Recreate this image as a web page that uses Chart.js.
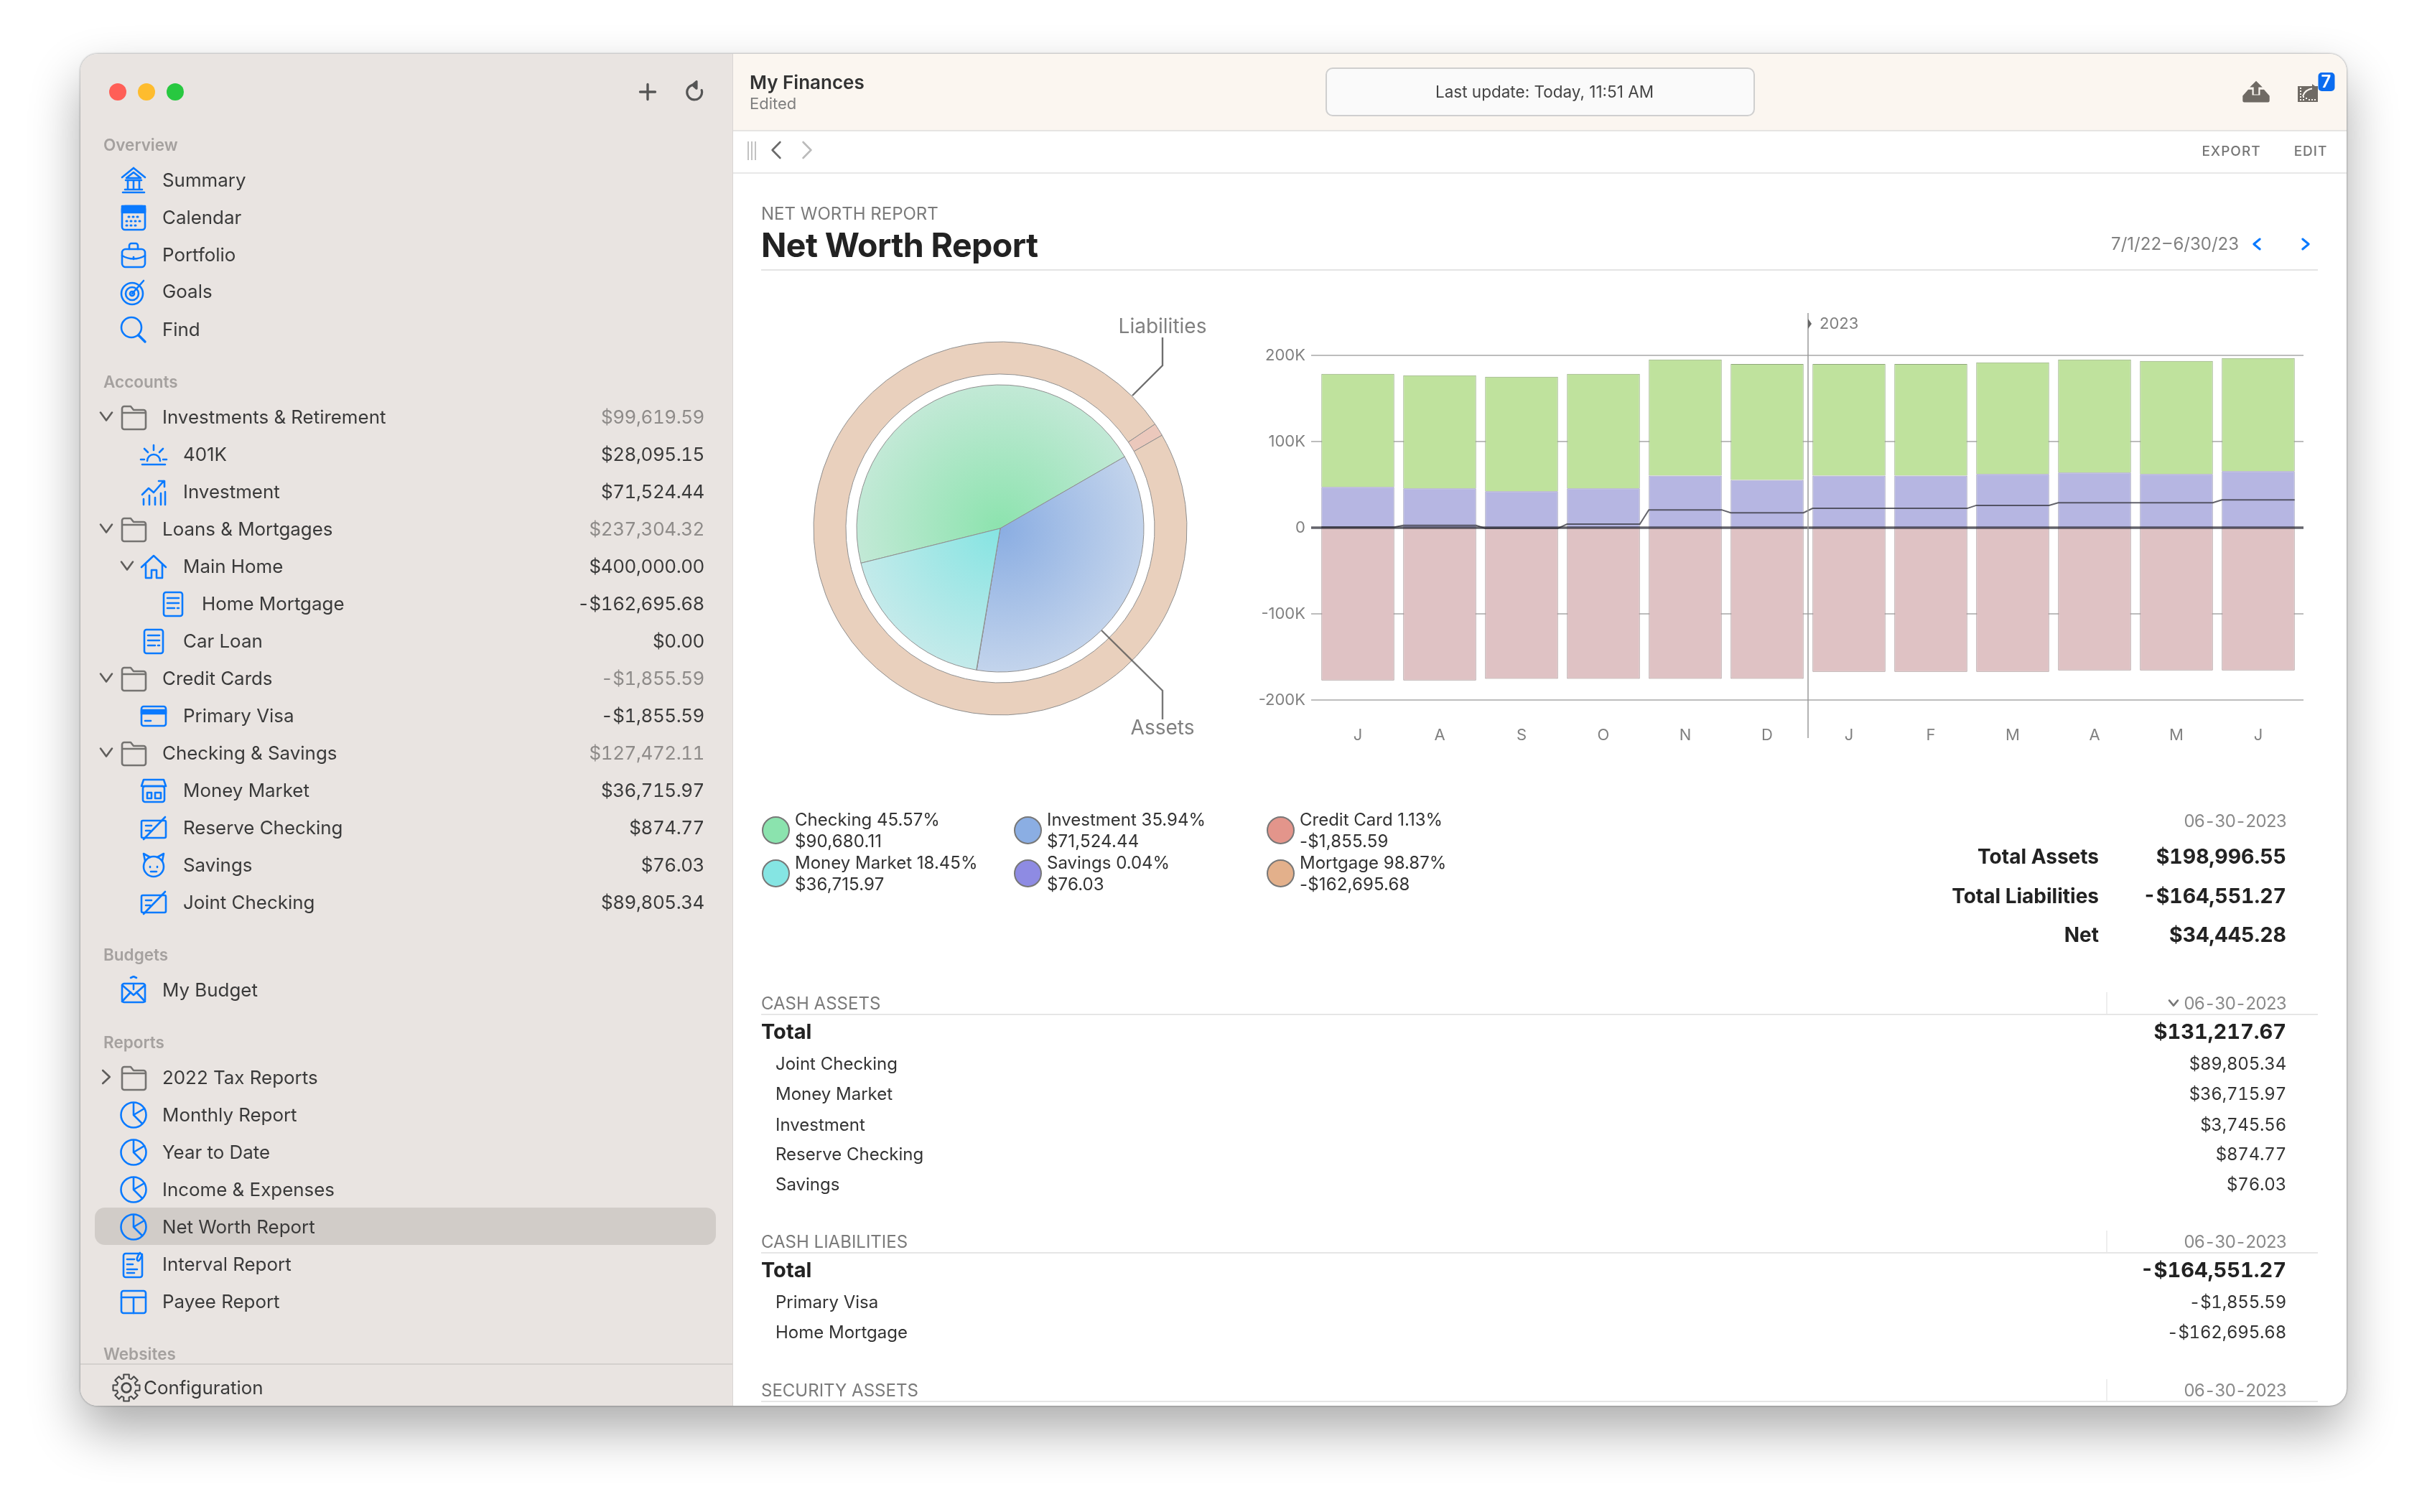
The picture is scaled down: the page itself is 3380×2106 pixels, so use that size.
<!DOCTYPE html>
<html>
<head>
<meta charset="utf-8">
<title>Net Worth Report</title>
<script src="https://cdn.jsdelivr.net/npm/chart.js@4"></script>
<style>
html, body { margin: 0; padding: 0; background: #fff; }
body { width: 3380px; height: 2106px; overflow: hidden; position: relative; font-family: Inter, "Noto Sans", sans-serif; }
#win { position: absolute; left: 112px; top: 75px; width: 3156px; height: 1883px; border-radius: 24px; overflow: hidden; background: #fff;
  box-shadow: 0 34px 70px rgba(0,0,0,.33), 0 0 3px rgba(0,0,0,.45); }
#layer { position: absolute; left: -112px; top: -75px; width: 3380px; height: 2106px; }
.t { position: absolute; white-space: nowrap; line-height: 1; transform: translateY(-50%); }
.c { transform: translate(-50%, -50%); }
.num { font-feature-settings: "tnum"; }
.box { position: absolute; }
canvas { position: absolute; }
svg.ic { position: absolute; fill: none; stroke: currentColor; stroke-width: 2.6; stroke-linecap: round; stroke-linejoin: round; }
</style>
</head>
<body>
<div id="win"><div id="layer">
  <div class="box" style="left:112px;top:75px;width:908px;height:1883px;background:#e9e4e1;border-right:1px solid #d9d6d4"></div>
  <div class="box" style="left:132px;top:1682px;width:865px;height:52px;background:#d1ccc8;border-radius:14px"></div>
  <div class="box" style="left:112px;top:1899px;width:908px;height:2px;background:#d4d0cd"></div>
  <div class="box" style="left:1021px;top:75px;width:2247px;height:106px;background:#fbf6f0;border-bottom:2px solid #e6e4e2"></div>
  <div class="box" style="left:1021px;top:183px;width:2247px;height:57px;border-bottom:2px solid #e8e8e8"></div>
  <div class="box" style="left:1846px;top:94px;width:594px;height:64px;background:#fafafa;border:2px solid #cfcfcf;border-radius:10px"></div>
  <div class="box" style="left:1060px;top:375px;width:2168px;height:2px;background:#e4e4e4"></div>
  <div class="box" style="left:164px;top:128px;width:24px;height:24px;margin:-12px;border-radius:50%;background:#ff5f57"></div>
  <div class="box" style="left:204px;top:128px;width:24px;height:24px;margin:-12px;border-radius:50%;background:#febc2e"></div>
  <div class="box" style="left:244px;top:128px;width:24px;height:24px;margin:-12px;border-radius:50%;background:#28c840"></div>
  <canvas id="ring" width="540" height="540" style="left:1123px;top:466px"></canvas>
  <canvas id="pie" width="540" height="540" style="left:1123px;top:466px"></canvas>
  <canvas id="bars" width="1530" height="640" style="left:1700px;top:420px"></canvas>
  <svg class="box" style="left:0;top:0" width="3380" height="2106" fill="none">
    <path d="M1577 551 1619 509V470" stroke="#6f6f6f" stroke-width="2.4"/>
    <path d="M1534 878 1619 962V1002" stroke="#555" stroke-opacity=".8" stroke-width="2.4"/>
  </svg>
  <svg class="box" style="left:3200px;top:117px" width="28" height="25" viewBox="0 0 28 25">
    <rect y="3" width="28" height="22" fill="#6f6a64"/>
    <path d="M4 5v18M8 17v6M12 19v4M16 21v2M20 21v2M24 21v2" stroke="#fbf6f0" stroke-width="2" stroke-dasharray="2 2" fill="none"/>
    <path d="M7 17C9 10 14 7 22 6" stroke="#fbf6f0" stroke-width="2" fill="none"/>
    <path d="M20 0l8 6-8 6z" fill="#6f6a64"/>
  </svg>
</div></div>
<script>
"use strict";

// chart values
var monthLabels = ["J", "A", "S", "O", "N", "D", "J", "F", "M", "A", "M", "J"];
var yTickLabels = ["-200K", "-100K", "0", "100K", "200K"];
var cashAssets = [47300, 45600, 42200, 45600, 60500, 55400, 60500, 60500, 62200, 63900, 62200, 65600];
var securityAssets = [131300, 131300, 133000, 133000, 134700, 134700, 129600, 129600, 129600, 131300, 131300, 131300];
var liabilities = [-177200, -177200, -175500, -175500, -175500, -175500, -167300, -167300, -167300, -165600, -165600, -165600];
var netWorth = [700, 2700, -700, 4100, 20700, 17300, 22400, 22400, 25900, 28900, 28900, 32300];

var assetNames = ["Checking", "Investment", "Savings", "Money Market"];
var assetValues = [90680.11, 71524.44, 76.03, 36715.97];
var assetInner = ["#8ce3ae", "#8aade2", "#8e8be3", "#85e4e2"];
var assetOuter = ["#c2e9d6", "#c3d4ec", "#c6c5ec", "#c3eaea"];
var liabilityNames = ["Credit Card", "Mortgage"];
var liabilityValues = [1855.59, 162695.68];
var liabilityColors = ["#ebc8bc", "#e9d0bd"];

var legendRows = [
  ["Checking 45.57%", "$90,680.11", "#8be3ae", 1107, 1142],
  ["Money Market 18.45%", "$36,715.97", "#85e5e3", 1107, 1202],
  ["Investment 35.94%", "$71,524.44", "#8baee3", 1458, 1142],
  ["Savings 0.04%", "$76.03", "#8e8be3", 1458, 1202],
  ["Credit Card 1.13%", "-$1,855.59", "#e3958b", 1810, 1142],
  ["Mortgage 98.87%", "-$162,695.68", "#e3b08b", 1810, 1202]
];

var layer = document.getElementById("layer");

function put(text, x, y, size, color, weight, align) {
  var el = document.createElement("div");
  el.className = "t" + (align === "c" ? " c" : "");
  el.textContent = text;
  if (align === "r") el.style.right = (3380 - x) + "px";
  else el.style.left = x + "px";
  el.style.top = y + "px";
  el.style.fontSize = size + "px";
  el.style.color = color;
  el.style.fontWeight = weight || 400;
  layer.appendChild(el);
  return el;
}

function putNum(text, x, y, size, color, weight, spacing) {
  var el = put(text, x, y, size, color, weight, "r");
  el.classList.add("num");
  el.style.letterSpacing = (spacing || 0) + "px";
  return el;
}

function gearPath() {
  var pts = [];
  for (var i = 0; i < 8; i++) {
    var a = i * Math.PI / 4;
    [[-0.27, 13], [-0.2, 18], [0.2, 18], [0.27, 13]].forEach(function (p) {
      pts.push((20 + p[1] * Math.sin(a + p[0])).toFixed(1) + " " + (20 - p[1] * Math.cos(a + p[0])).toFixed(1));
    });
  }
  return "M" + pts.join("L") + "Z";
}

var iconPaths = {
  bank: '<path d="M20 3 4 16M20 3l16 13M20 9 10 17h20zM12 20v12M20 20v12M28 20v12M9 20h22M8 33h24M5 37h30"/>',
  cal: '<rect x="4" y="4" width="32" height="33" rx="4"/><rect x="4" y="4" width="32" height="9" fill="currentColor"/><path stroke-dasharray="1 5" stroke-width="3" d="M13 19h16M10 25h20M10 31h14"/>',
  work: '<rect x="4" y="12" width="32" height="25" rx="5"/><path d="M14 12V7a3 3 0 0 1 3-3h6a3 3 0 0 1 3 3v5M4 21c10 6 22 6 32 0M20 23v3"/>',
  target: '<circle cx="18" cy="23" r="15"/><circle cx="18" cy="23" r="9"/><circle cx="18" cy="23" r="3"/><path d="M18 23 34 5"/>',
  find: '<circle cx="17" cy="17" r="14"/><path d="M27 28l9 9" stroke-width="3.4"/>',
  folder: '<path d="M4 11V8a3 3 0 0 1 3-3h9l4 5h14a3 3 0 0 1 3 3v21a3 3 0 0 1-3 3H7a3 3 0 0 1-3-3zM4 14h33"/>',
  sun: '<path d="M11 29a9 9 0 0 1 18 0M20 7v7M7 12l5 5M33 12l-5 5M2 27h5M33 27h5M4 34h32"/>',
  growth: '<path d="M4 24l9-9 7 6 14-16M27 5h8v8M6 38v-8M14 38v-13M22 38v-10M30 38v-16M36 38V20"/>',
  home: '<path d="M3 21 20 5l17 16M9 17v19h8V25h7v11h8V17"/>',
  doc: '<rect x="7" y="4" width="26" height="33" rx="3"/><path d="M12 12h16M12 19h16M12 26h10M26 26h2"/>',
  card: '<rect x="3" y="7" width="34" height="27" rx="3"/><rect x="3" y="12" width="34" height="5" fill="currentColor"/><path d="M8 27h8"/>',
  store: '<rect x="5" y="14" width="30" height="22" rx="3"/><path d="M6 5h28l3 9H3zM11 23h6v8h-6zM22 23h8v8h-8z"/>',
  cheque: '<rect x="3" y="10" width="34" height="24" rx="2"/><path d="M6 36 36 5M9 17h8M9 24h6"/>',
  piggy: '<circle cx="20" cy="22" r="14"/><path d="M8 14 6 4l9 5M32 14l2-10-9 5M15 22v1M25 22v1M16 29h8"/>',
  budget: '<rect x="4" y="11" width="32" height="26" rx="3"/><path d="M4 36l12-13M36 36 24 23M4 13l16 14 16-14M16 3l4-2 4 2M20 13v6"/>',
  pie: '<circle cx="20" cy="20" r="17.5"/><path d="M20 3v17l12 12M20 20l15-9"/>',
  interval: '<rect x="6" y="5" width="26" height="33" rx="3"/><path d="M11 13h10M11 20h8M11 27h14M11 32h10M29 4c-5 6-5 10-3 11s5-5 6-9"/>',
  table: '<rect x="3" y="5" width="34" height="31" rx="3"/><path d="M3 14h34M20 14v22"/>',
  gear: '<circle cx="20" cy="20" r="6"/><path stroke-width="2" d="' + gearPath() + '"/>',
  plus: '<path d="M20 6v28M6 20h28" stroke-width="4.5"/>',
  reload: '<path d="M25 8a13 13 0 1 0 9 9M25 2v12l-7-6z" stroke-width="4"/>',
  tray: '<path d="M20 7l-8 8h5v9h6v-9h5z" fill="currentColor" stroke="none"/><path d="M10 18h5v7h10v-7h5l7 8v6a2 2 0 0 1-2 2H5a2 2 0 0 1-2-2v-6z" fill="currentColor" stroke="none"/>'
};

function icon(name, cx, cy, color, size) {
  var s = size || 40;
  layer.insertAdjacentHTML("beforeend",
    '<svg class="ic" viewBox="0 0 40 40" width="' + s + '" height="' + s + '" style="left:' + (cx - s / 2) + 'px;top:' + (cy - s / 2) +
    'px;color:' + (color || "#0a7aff") + '">' + iconPaths[name] + "</svg>");
}

function chevron(dir, cx, cy, color, h, w, stroke) {
  var hw = (w || 8), hh = (h || 9);
  var d = { down: [-hw, -hh * 0.6, 0, hh * 0.6, hw, -hh * 0.6], right: [-hw * 0.6, -hh, hw * 0.6, 0, -hw * 0.6, hh], left: [hw * 0.6, -hh, -hw * 0.6, 0, hw * 0.6, hh] }[dir];
  layer.insertAdjacentHTML("beforeend",
    '<svg class="box" style="left:0;top:0" width="3380" height="2106" fill="none"><path stroke="' + color + '" stroke-width="' + (stroke || 2.6) + '" stroke-linecap="round" stroke-linejoin="round" d="M' +
    (cx + d[0]) + " " + (cy + d[1]) + "L" + (cx + d[2]) + " " + (cy + d[3]) + "L" + (cx + d[4]) + " " + (cy + d[5]) + '"/></svg>');
}

// sidebar
var sideHeads = [["Overview", 202], ["Accounts", 532], ["Budgets", 1330], ["Reports", 1452], ["Websites", 1886]];
sideHeads.forEach(function (h) { put(h[0], 144, h[1], 22.5, "#a5a19f", 600); });

var sideRows = [
  ["Summary", 251, 0, "bank"], ["Calendar", 303, 0, "cal"], ["Portfolio", 355, 0, "work"], ["Goals", 406, 0, "target"], ["Find", 459, 0, "find"],
  ["Investments & Retirement", 581, 0, "folder", "$99,619.59", 1, "down"],
  ["401K", 633, 1, "sun", "$28,095.15"], ["Investment", 685, 1, "growth", "$71,524.44"],
  ["Loans & Mortgages", 737, 0, "folder", "$237,304.32", 1, "down"],
  ["Main Home", 789, 1, "home", "$400,000.00", 0, "down"],
  ["Home Mortgage", 841, 2, "doc", "-$162,695.68"], ["Car Loan", 893, 1, "doc", "$0.00"],
  ["Credit Cards", 945, 0, "folder", "-$1,855.59", 1, "down"], ["Primary Visa", 997, 1, "card", "-$1,855.59"],
  ["Checking & Savings", 1049, 0, "folder", "$127,472.11", 1, "down"],
  ["Money Market", 1101, 1, "store", "$36,715.97"], ["Reserve Checking", 1153, 1, "cheque", "$874.77"],
  ["Savings", 1205, 1, "piggy", "$76.03"], ["Joint Checking", 1257, 1, "cheque", "$89,805.34"],
  ["My Budget", 1379, 0, "budget"],
  ["2022 Tax Reports", 1501, 0, "folder", null, 1, "right"],
  ["Monthly Report", 1553, 0, "pie"], ["Year to Date", 1605, 0, "pie"], ["Income & Expenses", 1657, 0, "pie"], ["Net Worth Report", 1709, 0, "pie"],
  ["Interval Report", 1761, 0, "interval"], ["Payee Report", 1813, 0, "table"]
];
var rowText = [226, 255, 281], rowIcon = [186, 214, 241], rowChev = [148, 177, 205];
sideRows.forEach(function (row) {
  var lv = row[2];
  put(row[0], rowText[lv], row[1], 25.9, "#3a3a3a", 400);
  icon(row[3], rowIcon[lv], row[1], row[3] === "folder" ? "#757371" : null);
  if (row[4]) putNum(row[4], 981, row[1], 25.9, row[5] ? "#8e8b89" : "#3a3a3a", 400, -0.4);
  if (row[6]) chevron(row[6], rowChev[lv], row[1] - 1, "#5f5d5b");
});
icon("gear", 176, 1933, "#4a4a4a", 42);
put("Configuration", 200, 1933, 25.9, "#3a3a3a", 400);
icon("plus", 902, 128, "#555", 30);
icon("reload", 966, 128, "#555", 32);

// title bar and toolbar
put("My Finances", 1044, 114.5, 26, "#333", 600);
put("Edited", 1044, 144, 22, "#808080");
put("Last update: Today, 11:51 AM", 2151, 128, 22.5, "#444", 400, "c");
icon("tray", 3142, 127, "#6f6a64", 44);
var badge = put("7", 3239.5, 114, 24, "#fff", 600, "c");
badge.style.cssText += ";background:#0a6cf0;border-radius:5px;width:23px;height:26px;line-height:26px;text-align:center";
var bars3 = [1041, 1046, 1051];
bars3.forEach(function (x) {
  var b = document.createElement("div");
  b.className = "box";
  b.style.cssText = "left:" + x + "px;top:197px;width:2px;height:26px;background:#c2c2c2";
  layer.appendChild(b);
});
chevron("left", 1081, 209, "#6a6a6a", 11, 9);
chevron("right", 1124, 209, "#bbb", 11, 9);
var toolbarLinks = [["EXPORT", 3107.5], ["EDIT", 3218]];
toolbarLinks.forEach(function (l) {
  put(l[0], l[1], 210, 19, "#757575", 500, "c").style.letterSpacing = "1px";
});

// report heading
put("NET WORTH REPORT", 1060, 298, 24, "#7a7a7a");
var heading = put("Net Worth Report", 1060, 340.5, 46.5, "#222", 700);
heading.style.letterSpacing = "-0.6px";
put("7/1/22\u200a\u2013\u200a6/30/23", 3118, 340, 24, "#808080", 400, "r");
chevron("left", 3143, 340, "#0a7aff", 7, 7, 3);
chevron("right", 3211, 340, "#0a7aff", 7, 7, 3);

// pie captions
put("Liabilities", 1619, 454, 28, "#808080", 400, "c");
put("Assets", 1619, 1013, 28, "#808080", 400, "c");

// legend
legendRows.forEach(function (row) {
  put(row[0], row[3], row[4], 24, "#333");
  put(row[1], row[3], row[4] + 30, 24, "#333").style.letterSpacing = "0.15px";
  var dot = document.createElement("div");
  dot.className = "box";
  dot.style.cssText = "left:" + (row[3] - 46) + "px;top:" + (row[4] - 5) + "px;width:35px;height:35px;border-radius:50%;border:2px solid #777;background:" + row[2];
  layer.appendChild(dot);
});

// summary block
putNum("06-30-2023", 3184, 1144, 24, "#8a8a8a", 400, -1.3);
var summaryRows = [["Total Assets", "$198,996.55", 1193], ["Total Liabilities", "-$164,551.27", 1248], ["Net", "$34,445.28", 1302]];
summaryRows.forEach(function (row) {
  put(row[0], 2923, row[2], 28, "#222", 700, "r");
  putNum(row[1], 3184, row[2], 28.5, "#222", 700);
});

// tables below the charts
function section(title, y, dateText) {
  put(title, 1060, y, 24, "#7a7a7a");
  putNum(dateText, 3184, y, 24, "#8a8a8a", 400, -1.3);
  var rule = document.createElement("div");
  rule.className = "box";
  rule.style.cssText = "left:1060px;top:" + (y + 14) + "px;width:2168px;height:2px;background:#e6e6e6";
  layer.appendChild(rule);
  var div = document.createElement("div");
  div.className = "box";
  div.style.cssText = "left:2933px;top:" + (y - 16) + "px;width:2px;height:30px;background:#eee";
  layer.appendChild(div);
}
section("CASH ASSETS", 1398, "06-30-2023");
chevron("down", 3027, 1397, "#777", 6, 6);
section("CASH LIABILITIES", 1730, "06-30-2023");
section("SECURITY ASSETS", 1937, "06-30-2023");

var tableRows = [
  ["Joint Checking", "$89,805.34", 1482], ["Money Market", "$36,715.97", 1524], ["Investment", "$3,745.56", 1567],
  ["Reserve Checking", "$874.77", 1608], ["Savings", "$76.03", 1650],
  ["Primary Visa", "-$1,855.59", 1814], ["Home Mortgage", "-$162,695.68", 1856]
];
tableRows.forEach(function (row) {
  put(row[0], 1080, row[2], 24, "#333");
  putNum(row[1], 3184, row[2], 24, "#333", 400, -0.2);
});
var tableTotals = [["Total", "$131,217.67", 1436], ["Total", "-$164,551.27", 1768]];
tableTotals.forEach(function (row) {
  put(row[0], 1060, row[2], 29, "#222", 700);
  putNum(row[1], 3184, row[2], 29, "#222", 700);
});

// charts
function sliceGradient(context) {
  var i = context.dataIndex, chart = context.chart, area = chart.chartArea;
  if (!area) return assetInner[i];
  var cx = (area.left + area.right) / 2, cy = (area.top + area.bottom) / 2;
  var g = chart.ctx.createRadialGradient(cx, cy, 0, cx, cy, 200);
  g.addColorStop(0, assetInner[i]);
  g.addColorStop(1, assetOuter[i]);
  return g;
}

new Chart(document.getElementById("ring"), {
  type: "doughnut",
  data: {
    labels: liabilityNames,
    datasets: [{ data: liabilityValues, backgroundColor: liabilityColors, borderColor: "#8f8f8f", borderWidth: 1 }]
  },
  options: {
    responsive: false, animation: false, rotation: 56, radius: 260, cutout: "82.7%",
    plugins: { legend: { display: false }, tooltip: { enabled: false } }
  }
});

new Chart(document.getElementById("pie"), {
  type: "pie",
  data: {
    labels: assetNames,
    datasets: [{ data: assetValues, backgroundColor: sliceGradient, borderColor: "#8f8f8f", borderWidth: 1 }]
  },
  options: {
    responsive: false, animation: false, rotation: 256, radius: 200,
    plugins: { legend: { display: false }, tooltip: { enabled: false } }
  }
});

var yearMarker = {
  id: "yearMarker",
  beforeDatasetsDraw: function (chart) {
    var ctx = chart.ctx, y = chart.scales.y, area = chart.chartArea;
    ctx.save();
    ctx.strokeStyle = "#bdbdbd";
    ctx.lineWidth = 2;
    y.ticks.forEach(function (t) {
      var py = Math.round(y.getPixelForValue(t.value));
      if (t.value === 0) return;
      ctx.beginPath();
      ctx.moveTo(area.left - 8, py);
      ctx.lineTo(area.right + 6, py);
      ctx.stroke();
    });
    ctx.restore();
  },
  afterDatasetsDraw: function (chart) {
    var ctx = chart.ctx, y = chart.scales.y, x = chart.scales.xNet, area = chart.chartArea;
    var zero = y.getPixelForValue(0), divide = x.getPixelForValue(5.5);
    ctx.save();
    ctx.strokeStyle = "rgba(40,40,50,.72)";
    ctx.lineWidth = 3.5;
    ctx.beginPath();
    ctx.moveTo(area.left - 8, zero);
    ctx.lineTo(area.right + 6, zero);
    ctx.stroke();
    ctx.strokeStyle = "#9a9a9a";
    ctx.lineWidth = 1.5;
    ctx.beginPath();
    ctx.moveTo(divide, 16);
    ctx.lineTo(divide, 608);
    ctx.stroke();
    ctx.fillStyle = "#666";
    ctx.beginPath();
    ctx.moveTo(divide, 24);
    ctx.lineTo(divide + 5, 31);
    ctx.lineTo(divide, 38);
    ctx.fill();
    ctx.fillStyle = "#808080";
    ctx.font = "22px Inter";
    ctx.textBaseline = "middle";
    ctx.fillText("2023", divide + 16, 31);
    ctx.restore();
  }
};

var barStyle = { type: "bar", borderWidth: 1, grouped: false, barPercentage: 0.89, categoryPercentage: 1, order: 2 };

new Chart(document.getElementById("bars"), {
  data: {
    labels: monthLabels,
    datasets: [
      Object.assign({ label: "Cash assets", data: cashAssets, backgroundColor: "#b6b6e2", borderColor: "#8f8fae" }, barStyle),
      Object.assign({ label: "Security assets", data: securityAssets, backgroundColor: "#bfe29d", borderColor: "#8ea679" }, barStyle),
      Object.assign({ label: "Liabilities", data: liabilities, backgroundColor: "#dfc2c4", borderColor: "#a08c8d" }, barStyle),
      {
        type: "line", label: "Net", xAxisID: "xNet", stack: "net", order: 1,
        data: netWorth.flatMap(function (v, i) { return [{ x: i - 0.445, y: v }, { x: i + 0.445, y: v }]; }),
        borderColor: "rgba(60,60,70,.8)", borderWidth: 2, pointRadius: 0, tension: 0, fill: false
      }
    ]
  },
  options: {
    responsive: false, animation: false,
    layout: { padding: { top: 75, right: 28, left: 0, bottom: 0 } },
    scales: {
      x: {
        stacked: true, grid: { display: false }, border: { display: false },
        afterFit: function (axis) { axis.height = 85; },
        ticks: { color: "#808080", font: { family: "Inter", size: 22 }, padding: 28, maxRotation: 0, autoSkip: false }
      },
      xNet: { type: "linear", display: false, min: -0.5, max: 11.5 },
      y: {
        stacked: true, min: -200000, max: 200000,
        grid: { display: false }, border: { display: false },
        afterFit: function (axis) { axis.width = 134; },
        ticks: {
          stepSize: 100000, color: "#808080", padding: 8, font: { family: "Inter", size: 22 },
          callback: function (value, index) { return yTickLabels[index]; }
        }
      }
    },
    plugins: { legend: { display: false }, tooltip: { enabled: false } }
  },
  plugins: [yearMarker]
});
</script>
</body>
</html>
